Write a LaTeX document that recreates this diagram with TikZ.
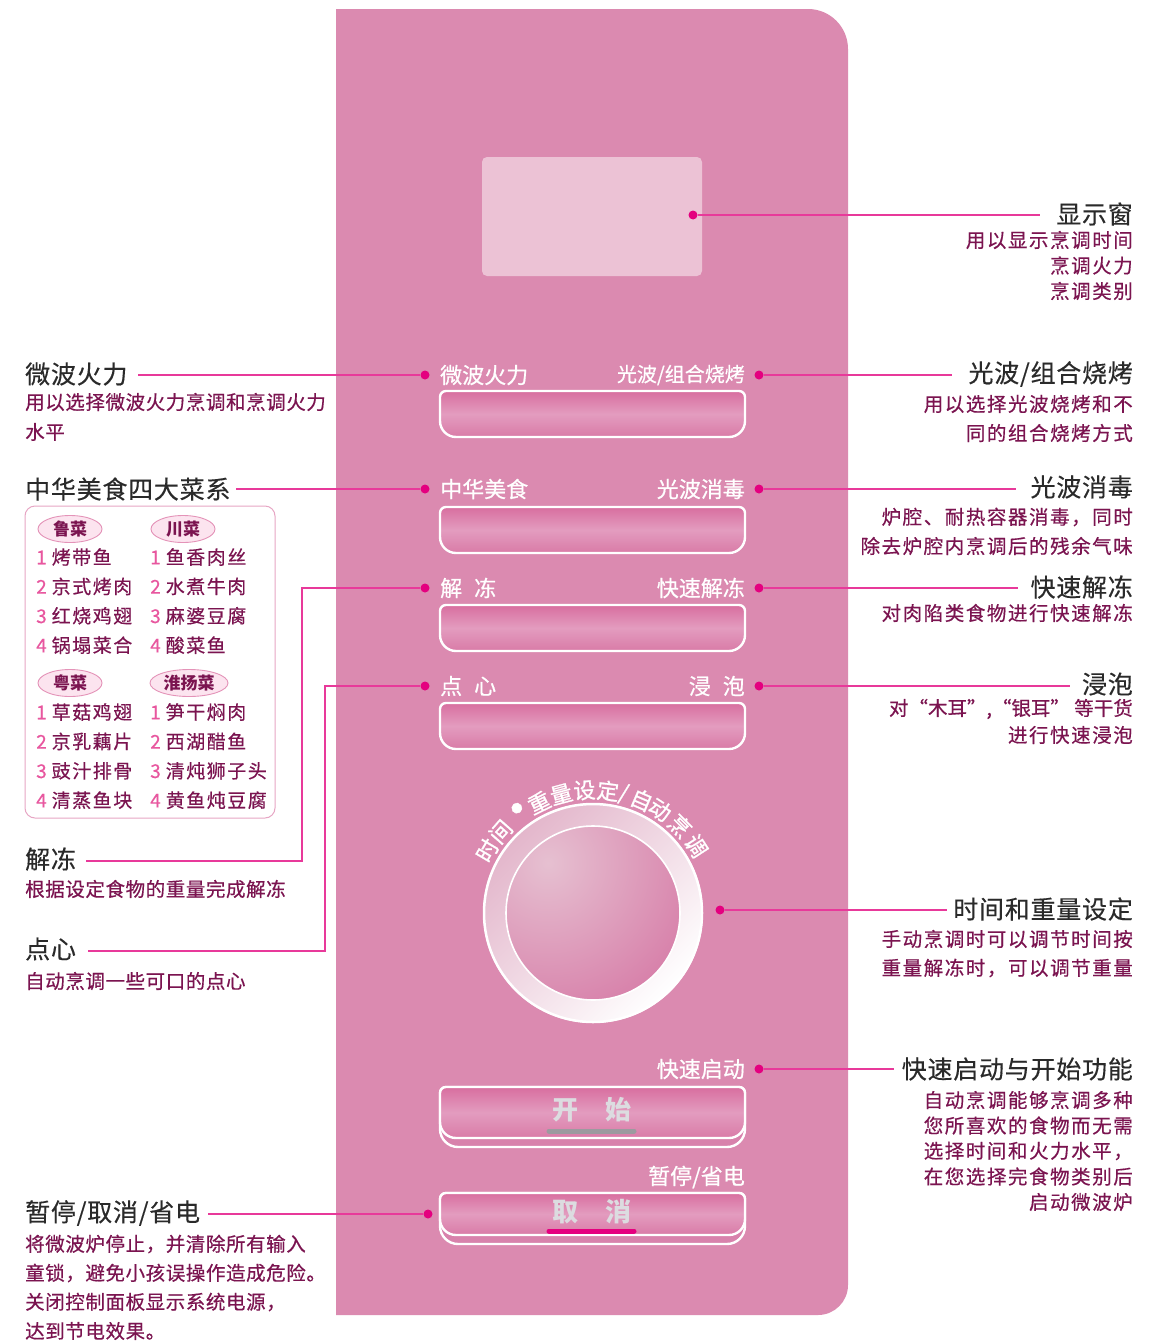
\documentclass[tikz,border=0pt]{standalone}
\usepackage{fontspec}
\setmainfont{Noto Sans CJK SC}
\usetikzlibrary{shapes.geometric,calc}
\definecolor{panelc}{HTML}{DB8AB0}
\definecolor{dispc}{HTML}{ECC2D5}
\definecolor{linec}{HTML}{E8399A}
\definecolor{dotc}{HTML}{E4007F}
\definecolor{titlec}{HTML}{2A2A2A}
\definecolor{descc}{HTML}{7B1450}
\definecolor{numc}{HTML}{E8579F}
\definecolor{boxc}{HTML}{E7A6C4}
\definecolor{tagf}{HTML}{FCE4EF}
\definecolor{tagb}{HTML}{E493B8}
\definecolor{btnT}{HTML}{D86E9F}
\definecolor{btnM}{HTML}{E39CBF}
\definecolor{btnB}{HTML}{D97BA7}
\definecolor{btnbase}{HTML}{D882AC}
\definecolor{btntxt}{HTML}{DCDCE0}
\definecolor{bargray}{HTML}{9C9A9F}
\definecolor{barmag}{HTML}{E5007F}
\definecolor{ringA}{HTML}{E3B6CB}
\definecolor{discA}{HTML}{E6C0D1}
\definecolor{discB}{HTML}{D77FA9}
\newcommand{\knobslash}{/}
\newcommand{\knobdot}{{\fontsize{48}{48}\selectfont •}}
\newcommand{\btnface}[4]{%
  \shadedraw[top color=btnT,bottom color=btnB,middle color=btnM,draw=white,line width=2.4pt]
   (#1+6,#2) -- (#3-6,#2) arc[start angle=-90,end angle=0,radius=6] -- (#3,#4-16)
   arc[start angle=0,end angle=90,radius=16] -- (#1+16,#4)
   arc[start angle=90,end angle=180,radius=16] -- (#1,#2+6)
   arc[start angle=180,end angle=270,radius=6] -- cycle;}
\newcommand{\btnbase}[4]{%
  \filldraw[fill=btnbase,draw=white,line width=2.4pt]
   (#1+6,#2) -- (#3-6,#2) arc[start angle=-90,end angle=0,radius=6] -- (#3,#4-18)
   arc[start angle=0,end angle=90,radius=18] -- (#1+18,#4)
   arc[start angle=90,end angle=180,radius=18] -- (#1,#2+6)
   arc[start angle=180,end angle=270,radius=6] -- cycle;}
\begin{document}
\begin{tikzpicture}[x=1pt,y=-1pt,
  ttl/.style={font=\fontsize{25}{28}\selectfont\addfontfeature{LetterSpace=3,FakeBold=0.3}, text=titlec, inner sep=0pt},
  ttlR/.style={ttl, anchor=east},
  ttlL/.style={ttl, anchor=west},
  dscR/.style={font=\fontsize{19.5}{22}\selectfont\addfontfeature{LetterSpace=8,FakeBold=0.5}, text=descc, inner sep=0pt, anchor=east},
  dscL/.style={font=\fontsize{19.5}{22}\selectfont\addfontfeature{LetterSpace=3,FakeBold=0.5}, text=descc, inner sep=0pt, anchor=west},
  plab/.style={font=\fontsize{22}{24}\selectfont\addfontfeature{FakeBold=0.6}, text=white, inner sep=0pt},
  plabL/.style={plab, anchor=west},
  plabR/.style={plab, anchor=east},
  dotn/.style={circle, fill=dotc, inner sep=0pt, minimum size=9pt},
  conn/.style={draw=linec, line width=1.6pt},
  menu/.style={font=\fontsize{19}{22}\selectfont\addfontfeature{LetterSpace=8,FakeBold=0.4}, text=descc, inner sep=0pt, anchor=west},
  tag/.style={ellipse, draw=tagb, fill=tagf, line width=0.9pt, minimum width=64pt, minimum height=27pt, inner sep=0pt, font=\fontsize{17}{19}\selectfont\bfseries, text=descc},
  knobtxt/.style={font=\fontsize{22}{24}\selectfont\addfontfeature{FakeBold=1}, text=white, inner sep=0pt},
  btntext/.style={font=\fontsize{26}{28}\selectfont\bfseries, text=btntxt, inner sep=0pt}
]
\useasboundingbox (0,0) rectangle (1170,1341);
\fill[white] (0,0) rectangle (1170,1341);

% panel
\fill[panelc] (336,9) -- (808,9) arc[start angle=-90,end angle=0,radius=40] -- (848,1285)
  arc[start angle=0,end angle=90,radius=30] -- (336,1315) -- cycle;
% display window
\fill[dispc, rounded corners=5pt] (482,157) rectangle (702,276);

% buttons
\btnface{440}{391}{745}{437}
\btnface{440}{507}{745}{553}
\btnface{440}{605}{745}{651}
\btnface{440}{703}{745}{749}
\btnbase{440}{1087}{745}{1147}
\btnface{440}{1087}{745}{1138}
\btnbase{440}{1193}{745}{1244}
\btnface{440}{1193}{745}{1235}

% button texts
\node[btntext] (bKS) at (592,1110) {开\hspace{27pt}始};
\draw[bargray, line width=5pt, line cap=round] (549,1131) -- (634,1131);
\node[btntext] (bQX) at (592,1212) {取\hspace{27pt}消};
\draw[barmag, line width=5pt, line cap=round] (549,1231) -- (634,1231);

% panel labels
\node[plabL] (pWB) at (440,375) {微波火力};
\node[plabR, font=\fontsize{20}{22}\selectfont\addfontfeature{FakeBold=0.6}] (pGB) at (745,375) {光波/组合烧烤};
\node[plabL] (pZH) at (440,489) {中华美食};
\node[plabR] (pGX) at (745,489) {光波消毒};
\node[plabL] (pJD) at (440,588) {解\hspace{12pt}冻};
\node[plabR] (pKJ) at (745,588) {快速解冻};
\node[plabL] (pDX) at (440,686) {点\hspace{12pt}心};
\node[plabR] (pJP) at (745,686) {浸\hspace{12pt}泡};
\node[plabR] (pKS) at (745,1069) {快速启动};
\node[plabR] (pZT) at (745,1177) {暂停/省电};

% knob
\coordinate (kc) at (593,913);
\shade[even odd rule, top color=ringA, bottom color=white, shading angle=45]
  (kc) circle[radius=110] (kc) circle[radius=87];
\begin{scope}
  \clip (kc) circle[radius=87];
  \shade[inner color=discA, outer color=discB] ($(kc)+(-45,-50)$) circle[radius=160];
\end{scope}
\draw[white, line width=2.5pt] (kc) circle[radius=109];
\draw[white, line width=1.6pt] (kc) circle[radius=87];
\foreach \a/\ch [count=\i] in {149.4/时,138.6/间,126/\knobdot,116/重,105/量,94/设,83/定,75.6/\knobslash,66.7/自,57/动,45/烹,33/调}
  \node[knobtxt, rotate=\a-90] (k\i) at ($(kc)+(-\a:123)$) {\ch};

% dots
\node[dotn] (dDW) at (693,215) {};
\node[dotn] (dWB) at (425,375) {};
\node[dotn] (dGB) at (759,375) {};
\node[dotn] (dZH) at (425,489) {};
\node[dotn] (dGX) at (759,489) {};
\node[dotn] (dJD) at (425,588) {};
\node[dotn] (dKJ) at (759,588) {};
\node[dotn] (dDX) at (425,686) {};
\node[dotn] (dJP) at (759,686) {};
\node[dotn] (dSJ) at (720,910) {};
\node[dotn] (dKS) at (759,1069) {};
\node[dotn] (dZT) at (428,1214) {};

% right titles and descriptions
\node[ttlR] (tDW) at (1133,214) {显示窗};
\foreach \t [count=\i] in {{用以显示烹调时间},{烹调火力},{烹调类别}}
  \node[dscR] (sDW\i) at (1133,{240+25.5*(\i-1)}) {\t};
\node[ttlR] (tGB) at (1133,374) {光波/组合烧烤};
\foreach \t [count=\i] in {{用以选择光波烧烤和不},{同的组合烧烤方式}}
  \node[dscR] (sGB\i) at (1133,{404+29*(\i-1)}) {\t};
\node[ttlR] (tGX) at (1133,487) {光波消毒};
\foreach \t [count=\i] in {{炉腔、耐热容器消毒，同时},{除去炉腔内烹调后的残余气味}}
  \node[dscR] (sGX\i) at (1133,{517+29*(\i-1)}) {\t};
\node[ttlR] (tKJ) at (1133,587) {快速解冻};
\node[dscR] (sKJ1) at (1133,613) {对肉陷类食物进行快速解冻};
\node[ttlR] (tJP) at (1133,684) {浸泡};
\node[dscR, font=\fontsize{19.5}{22}\selectfont\addfontfeature{LetterSpace=0,FakeBold=0.5}] (sJP1) at (1133,709) {对“木耳”,“银耳” 等干货};
\node[dscR] (sJP2) at (1133,735) {进行快速浸泡};
\node[ttlR] (tSJ) at (1133,909) {时间和重量设定};
\foreach \t [count=\i] in {{手动烹调时可以调节时间按},{重量解冻时，可以调节重量}}
  \node[dscR] (sSJ\i) at (1133,{939+29*(\i-1)}) {\t};
\node[ttlR] (tKS) at (1133,1069) {快速启动与开始功能};
\foreach \t [count=\i] in {{自动烹调能够烹调多种},{您所喜欢的食物而无需},{选择时间和火力水平，},{在您选择完食物类别后},{启动微波炉}}
  \node[dscR] (sKS\i) at (1133,{1100+25.5*(\i-1)}) {\t};

% left titles and descriptions
\node[ttlL] (tWB) at (25,374) {微波火力};
\foreach \t [count=\i] in {{用以选择微波火力烹调和烹调火力},{水平}}
  \node[dscL] (sWB\i) at (25,{402+30*(\i-1)}) {\t};
\node[ttlL] (tZH) at (25,489) {中华美食四大菜系};
\node[ttlL] (tJD) at (25,859) {解冻};
\node[dscL] (sJD1) at (25,889) {根据设定食物的重量完成解冻};
\node[ttlL] (tDX) at (25,949) {点心};
\node[dscL] (sDX1) at (25,981) {自动烹调一些可口的点心};
\node[ttlL] (tZT) at (25,1213) {暂停/取消/省电};
\foreach \t [count=\i] in {{将微波炉停止，并清除所有输入},{童锁，避免小孩误操作造成危险。},{关闭控制面板显示系统电源，},{达到节电效果。}}
  \node[dscL] (sZT\i) at (25,{1244+29*(\i-1)}) {\t};

% menu box
\draw[boxc, line width=1pt, rounded corners=10pt] (25,506) rectangle (275,818);
\node[tag] (gLu) at (70,529) {鲁菜};
\node[tag] (gChuan) at (183,529) {川菜};
\node[tag] (gYue) at (70,683) {粤菜};
\node[tag, minimum width=78pt] (gHuai) at (189,683) {淮扬菜};
\foreach \t [count=\i] in {烤带鱼,京式烤肉,红烧鸡翅,锅塌菜合}
  \node[menu] (mA\i) at (36,{557+29.4*(\i-1)}) {\textcolor{numc}{\i}\hspace{5pt}\t};
\foreach \t [count=\i] in {鱼香肉丝,水煮牛肉,麻婆豆腐,酸菜鱼}
  \node[menu] (mB\i) at (150,{557+29.4*(\i-1)}) {\textcolor{numc}{\i}\hspace{5pt}\t};
\foreach \t [count=\i] in {草菇鸡翅,京乳藕片,豉汁排骨,清蒸鱼块}
  \node[menu] (mC\i) at (36,{712+29.4*(\i-1)}) {\textcolor{numc}{\i}\hspace{5pt}\t};
\foreach \t [count=\i] in {笋干焖肉,西湖醋鱼,清炖狮子头,黄鱼炖豆腐}
  \node[menu] (mD\i) at (150,{712+29.4*(\i-1)}) {\textcolor{numc}{\i}\hspace{5pt}\t};

% connectors
\draw[conn] (dDW) -- ([xshift=-16pt]tDW.west |- dDW);
\draw[conn] (dGB) -- ([xshift=-16pt]tGB.west |- dGB);
\draw[conn] (dGX) -- ([xshift=-14pt]tGX.west |- dGX);
\draw[conn] (dKJ) -- ([xshift=-12pt]tKJ.west |- dKJ);
\draw[conn] (dJP) -- ([xshift=-12pt]tJP.west |- dJP);
\draw[conn] (dSJ) -- ([xshift=-6pt]tSJ.west |- dSJ);
\draw[conn] (dKS) -- ([xshift=-8pt]tKS.west |- dKS);
\draw[conn] (dWB) -- ([xshift=10pt]tWB.east |- dWB);
\draw[conn] (dZH) -- ([xshift=5pt]tZH.east |- dZH);
\draw[conn] (dZT) -- ([xshift=8pt]tZT.east |- dZT);
\coordinate (bJD) at (302,861);
\coordinate (bDX) at (325,951);
\draw[conn] ([xshift=10pt]tJD.east |- bJD) -- (bJD) |- (dJD);
\draw[conn] ([xshift=12pt]tDX.east |- bDX) -- (bDX) |- (dDX);
\end{tikzpicture}
\end{document}
